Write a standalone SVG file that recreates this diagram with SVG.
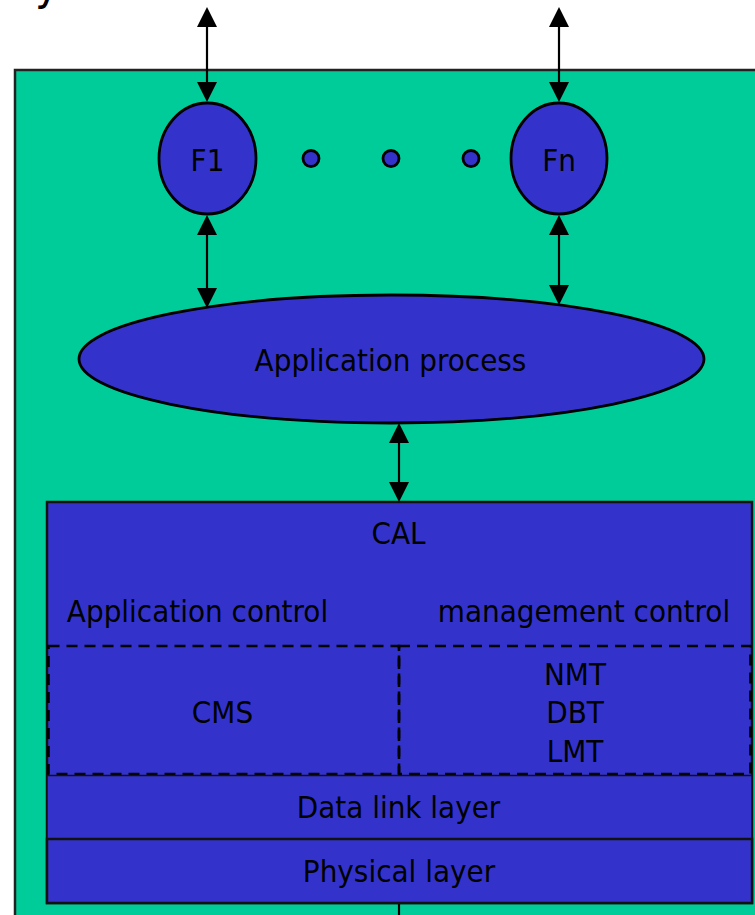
<svg xmlns="http://www.w3.org/2000/svg" width="755" height="915" viewBox="0 0 755 915">
  <defs>
    <style>
      .frame { fill: #00CC99; stroke: #222222; stroke-width: 2.5; }
      .shape { fill: #3333CC; stroke: #000000; stroke-width: 2.8; }
      .layer { fill: #3333CC; stroke: #111111; stroke-width: 2.5; }
      .dash { fill: none; stroke: #000000; stroke-width: 2.6; stroke-dasharray: 11 7; }
      .link { fill: none; stroke: #000000; stroke-width: 2.2; }
      .lbl { font-family: "DejaVu Sans Condensed", "DejaVu Sans", sans-serif; font-stretch: condensed; font-size: 31px; fill: #000000; text-anchor: middle; }
    </style>
    <marker id="head" viewBox="0 0 20 20" refX="0" refY="10" markerWidth="20" markerHeight="20" markerUnits="userSpaceOnUse" orient="auto-start-reverse">
      <path d="M0,0 L20,10 L0,20 Z" fill="#000000"/>
    </marker>
  </defs>

  <rect width="755" height="915" fill="#FFFFFF"/>

  <!-- tail of the heading line above the frame -->
  <text x="35" y="-1" style="font-family: 'DejaVu Sans Condensed', 'DejaVu Sans', sans-serif; font-stretch: condensed; font-size: 46px; fill: #000000;">y</text>

  <!-- device frame -->
  <rect id="frame" class="frame" x="15" y="70" width="760" height="870"/>

  <!-- connectors -->
  <g id="connectors">
    <line class="link" x1="207" y1="27" x2="207" y2="82" marker-start="url(#head)" marker-end="url(#head)"/>
    <line class="link" x1="559" y1="27" x2="559" y2="82" marker-start="url(#head)" marker-end="url(#head)"/>
    <line class="link" x1="207" y1="235" x2="207" y2="288" marker-start="url(#head)" marker-end="url(#head)"/>
    <line class="link" x1="559" y1="235" x2="559" y2="285" marker-start="url(#head)" marker-end="url(#head)"/>
    <line class="link" x1="399" y1="443" x2="399" y2="482" marker-start="url(#head)" marker-end="url(#head)"/>
    <line class="link" x1="399" y1="903" x2="399" y2="920"/>
  </g>

  <g id="f1">
    <ellipse class="shape" cx="207.5" cy="158.5" rx="48.5" ry="55.5"/>
    <text class="lbl" x="207.5" y="171">F1</text>
  </g>

  <g id="ellipsis-dots">
    <circle class="shape" cx="311" cy="158.5" r="8"/>
    <circle class="shape" cx="391" cy="158.5" r="8"/>
    <circle class="shape" cx="471" cy="158.5" r="8"/>
  </g>

  <g id="fn">
    <ellipse class="shape" cx="559" cy="158.5" rx="48" ry="55.5"/>
    <text class="lbl" x="559" y="171">Fn</text>
  </g>

  <g id="application-process">
    <ellipse class="shape" cx="391.5" cy="359" rx="312.5" ry="64"/>
    <text class="lbl" x="390.5" y="371">Application process</text>
  </g>

  <g id="cal">
    <rect class="layer" x="47" y="502" width="705" height="401"/>
    <text class="lbl" x="398.5" y="544">CAL</text>
    <text class="lbl" x="197.5" y="622">Application control</text>
    <text class="lbl" x="584" y="622">management control</text>
  </g>

  <g id="cms">
    <rect class="dash" x="48.5" y="646" width="350.5" height="128"/>
    <text class="lbl" x="222.5" y="723">CMS</text>
  </g>

  <g id="management-services">
    <rect class="dash" x="399" y="646" width="351.5" height="128"/>
    <text class="lbl" x="575" y="685">NMT</text>
    <text class="lbl" x="575" y="723">DBT</text>
    <text class="lbl" x="575" y="762">LMT</text>
  </g>

  <g id="data-link-layer">
    <rect class="layer" x="47" y="775.5" width="705" height="63.5" style="stroke-width: 1.5"/>
    <text class="lbl" x="398.5" y="818">Data link layer</text>
  </g>

  <g id="physical-layer">
    <rect class="layer" x="47" y="839" width="705" height="64"/>
    <text class="lbl" x="399" y="882">Physical layer</text>
  </g>
</svg>
